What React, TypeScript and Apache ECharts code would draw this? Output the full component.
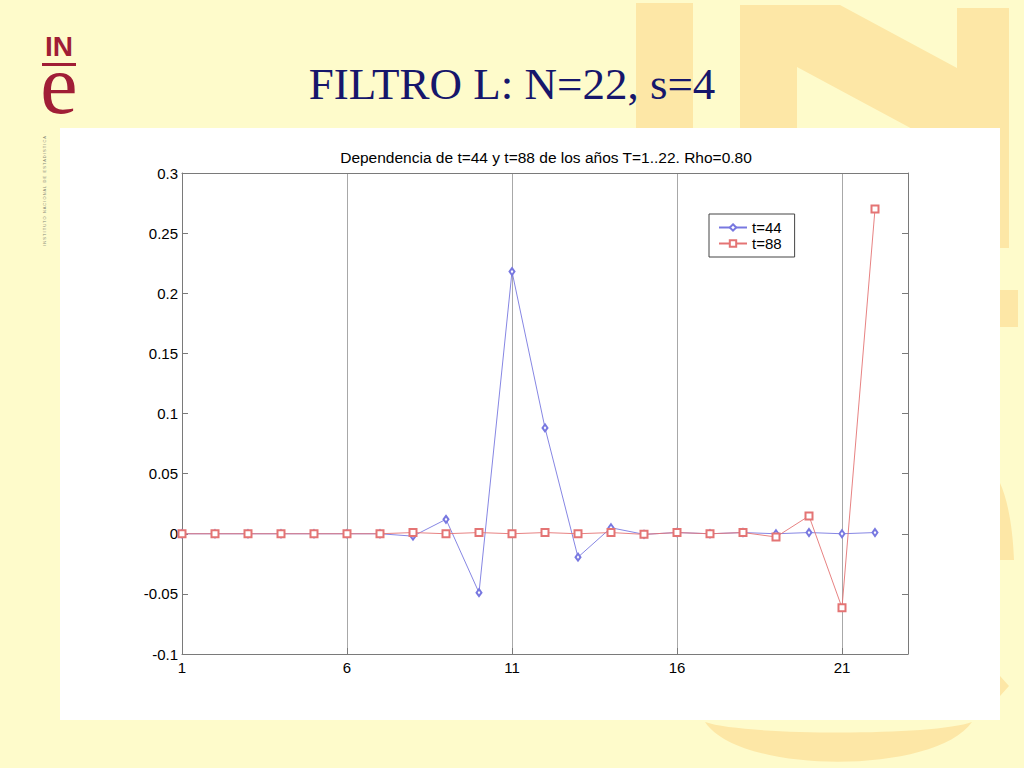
import React, { useEffect, useRef } from "react";
import * as echarts from "echarts";

// ---- data ----
const years: number[] = [1, 2, 3, 4, 5, 6, 7, 8, 9, 10, 11, 12, 13, 14, 15, 16, 17, 18, 19, 20, 21, 22];
const t44: number[] = [0, 0, 0, 0, 0, 0, 0, -0.002, 0.012, -0.049, 0.218, 0.088, -0.0195, 0.005, -0.0005, 0.001, 0, 0.001, 0, 0.001, 0, 0.001];
const t88: number[] = [0, 0, 0, 0, 0, 0, 0, 0.001, 0, 0.001, 0, 0.001, 0, 0.001, -0.0005, 0.001, 0, 0.001, -0.0027, 0.0148, -0.0615, 0.27];
const seriesNames: string[] = ["t=44", "t=88"];
const xTickLabels: string[] = ["1", "6", "11", "16", "21"];
const chartTitle = "Dependencia de t=44 y t=88 de los años T=1..22. Rho=0.80";
const slideTitle = "FILTRO L: N=22, s=4";

const WATERMARK_D =
  "M636 3 L693 3 L693 285 L636 285 Z " +
  "M740 5 L840 5 L957 68 L957 8 L1009 8 L1009 248 L957 248 L957 153 L797 67 L797 248 L740 248 Z " +
  "M636 290 L1018 290 L1018 327 L636 327 Z " +
  "M1000 483 C1008 500 1013 530 1014 560 L1000 560 Z " +
  "M705 722 C740 775 935 775 972 722 C935 736 745 736 705 722 Z " +
  "M1000 676 L1009 686 L1000 696 Z";

let registered = false;
function ensureShapes() {
  if (registered) return;
  echarts.graphic.registerShape("inewm", echarts.graphic.extendPath(WATERMARK_D, {}));
  registered = true;
}

const SANS = "Liberation Sans";
const BLUE = "#7878e0";
const RED = "#e47474";
const AXIS = "#7a7a7a";
const FS = 15;

export default function App() {
  const ref = useRef<HTMLDivElement | null>(null);

  useEffect(() => {
    if (!ref.current) return;
    ensureShapes();
    const chart = echarts.init(ref.current, null, { renderer: "svg" });

    const option: any = {
      animation: false,
      backgroundColor: "#FEFBCB",
      textStyle: { fontFamily: SANS },
      title: {
        text: chartTitle,
        left: 546,
        top: 149,
        textAlign: "center",
        padding: 0,
        textStyle: { fontFamily: SANS, fontSize: 15.5, fontWeight: "normal", color: "#000" },
      },
      legend: {
        orient: "vertical",
        left: 709,
        top: 214,
        padding: [6, 13, 6, 9],
        borderColor: "#444",
        borderWidth: 1,
        borderRadius: 0,
        backgroundColor: "#fff",
        itemWidth: 28,
        itemHeight: 8,
        itemGap: 1,
        data: seriesNames,
        textStyle: { fontFamily: SANS, fontSize: FS, color: "#000" },
      },
      grid: { left: 182, top: 173, width: 726, height: 481, containLabel: false },
      xAxis: [
        {
          type: "value",
          min: 1,
          max: 23,
          interval: 5,
          position: "bottom",
          axisLine: { show: true, onZero: false, lineStyle: { color: AXIS, width: 1 } },
          axisTick: { show: true, inside: true, length: 6, lineStyle: { color: AXIS } },
          axisLabel: {
            color: "#000",
            fontSize: FS,
            fontFamily: SANS,
            margin: 6,
            showMaxLabel: false,
            formatter: (v: number) => (xTickLabels.includes(String(v)) ? String(v) : ""),
          },
          splitLine: { show: true, lineStyle: { color: "#a8a8a8", width: 1 } },
        },
        {
          type: "value",
          min: 1,
          max: 23,
          interval: 5,
          position: "top",
          axisLine: { show: true, onZero: false, lineStyle: { color: AXIS, width: 1 } },
          axisTick: { show: false },
          axisLabel: { show: false },
          splitLine: { show: false },
        },
      ],
      yAxis: [
        {
          type: "value",
          min: -0.1,
          max: 0.3,
          interval: 0.05,
          position: "left",
          axisLine: { show: true, onZero: false, lineStyle: { color: AXIS, width: 1 } },
          axisTick: { show: true, inside: true, length: 6, lineStyle: { color: AXIS } },
          axisLabel: {
            color: "#000",
            fontSize: FS,
            fontFamily: SANS,
            margin: 4,
            formatter: (v: number) => String(Math.round(v * 100) / 100),
          },
          splitLine: { show: false },
        },
        {
          type: "value",
          min: -0.1,
          max: 0.3,
          interval: 0.05,
          position: "right",
          axisLine: { show: true, onZero: false, lineStyle: { color: AXIS, width: 1 } },
          axisTick: { show: true, inside: true, length: 6, lineStyle: { color: AXIS } },
          axisLabel: { show: false },
          splitLine: { show: false },
        },
      ],
      series: [
        {
          name: seriesNames[0],
          type: "line",
          xAxisIndex: 0,
          yAxisIndex: 0,
          data: years.map((x, i) => [x, t44[i]]),
          symbol: "emptyDiamond",
          symbolSize: [5, 7],
          lineStyle: { color: BLUE, width: 0.9 },
          itemStyle: { color: BLUE, borderWidth: 0.7 },
        },
        {
          name: seriesNames[1],
          type: "line",
          xAxisIndex: 0,
          yAxisIndex: 0,
          data: years.map((x, i) => [x, t88[i]]),
          symbol: "emptyRect",
          symbolSize: 7,
          lineStyle: { color: RED, width: 0.9 },
          itemStyle: { color: RED, borderWidth: 0.7 },
        },
      ],
      graphic: [
        { type: "inewm", x: 0, y: 0, scaleX: 1, scaleY: 1, z: -30, silent: true, style: { fill: "#FDE7A6" } },
        { type: "rect", z: -20, silent: true, shape: { x: 60, y: 128, width: 940, height: 592 }, style: { fill: "#ffffff" } },
        {
          type: "text",
          z: -10,
          x: 512,
          y: 84,
          style: { text: slideTitle, fill: "#16166b", fontFamily: "Liberation Serif", fontSize: 45, align: "center", verticalAlign: "middle" },
        },
        {
          type: "text",
          z: -10,
          x: 59,
          y: 46,
          style: { text: "IN", fill: "#A01E36", fontFamily: SANS, fontWeight: "bold", fontSize: 28, align: "center", verticalAlign: "middle" },
        },
        { type: "rect", z: -10, shape: { x: 42, y: 63, width: 34, height: 3 }, style: { fill: "#A01E36" } },
        {
          type: "text",
          z: -10,
          x: 59,
          y: 84,
          style: { text: "e", fill: "#A01E36", fontFamily: "Liberation Serif", fontSize: 84, lineHeight: 40, align: "center", verticalAlign: "middle" },
        },
        {
          type: "text",
          z: -10,
          x: 44,
          y: 191,
          rotation: Math.PI / 2,
          style: {
            text: "I N S T I T U T O   N A C I O N A L   D E   E S T A D I S T I C A",
            fill: "#8a8a7a",
            fontFamily: SANS,
            fontSize: 4,
            align: "center",
            verticalAlign: "middle",
          },
        },
      ],
    };

    chart.setOption(option);
    return () => chart.dispose();
  }, []);

  return <div ref={ref} style={{ position: "absolute", left: 0, top: 0, width: 1024, height: 768 }} />;
}
